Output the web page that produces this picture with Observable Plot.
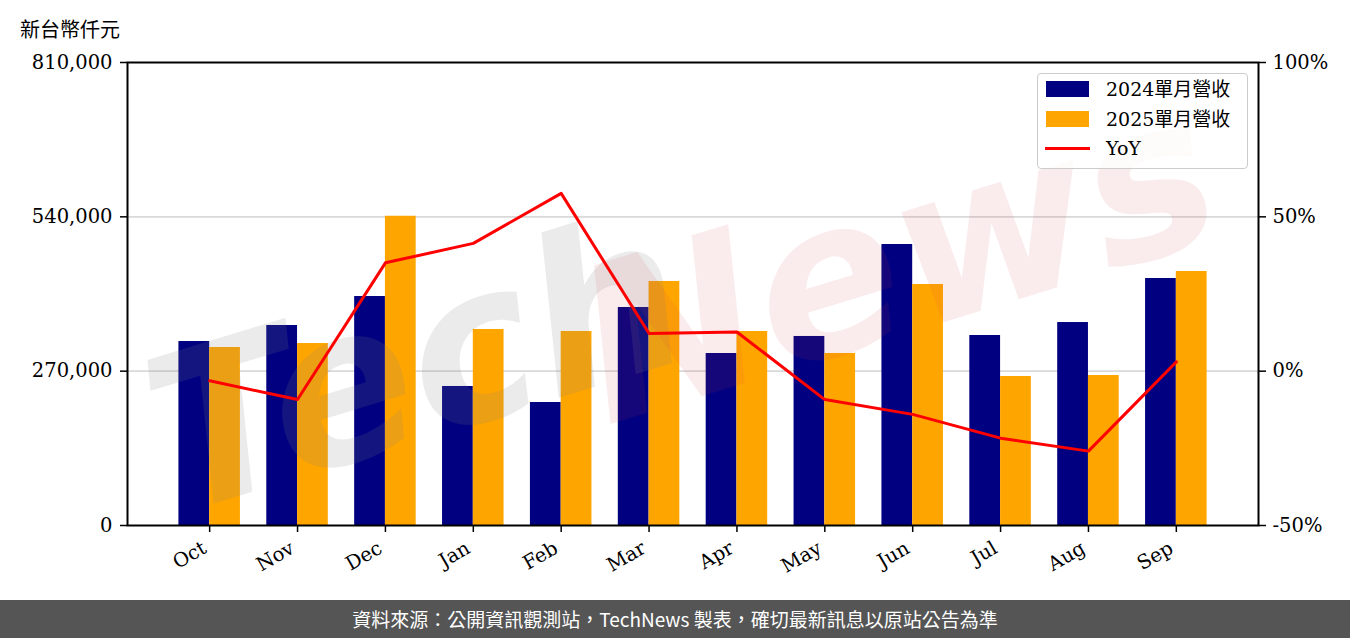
<!DOCTYPE html>
<html>
<head>
<meta charset="utf-8">
<script src="https://cdn.jsdelivr.net/npm/d3@7"></script>
<script src="https://cdn.jsdelivr.net/npm/@observablehq/plot@0.6"></script>
<style>
  html, body { margin: 0; padding: 0; background: #fff; }
  #wrap { position: relative; width: 1350px; height: 638px; overflow: hidden; background: #fff; }
  #unit { position: absolute; left: 20px; top: 14px; font: 20px "Noto Sans CJK TC", sans-serif; color: #000; }
  #legend { position: absolute; left: 1037px; top: 73px; width: 209px; height: 94px; border: 1px solid #cccccc; border-radius: 4px; background: rgba(255,255,255,0.8); }
  #legend .sw { position: absolute; left: 8px; width: 43px; height: 16px; }
  #legend .ln { position: absolute; left: 7px; width: 45px; height: 3px; background: #ff0000; }
  #legend .lab { position: absolute; left: 68px; font: 19px "DejaVu Serif", "Noto Sans CJK TC", serif; color: #000; line-height: 24px; }
  #footer { position: absolute; left: 0; top: 600px; width: 1350px; height: 38px; background: #555555; color: #fff; font: 19px "Noto Sans CJK TC", sans-serif; text-align: center; line-height: 38px; }
  #chart svg { display: block; }
</style>
</head>
<body>
<div id="wrap">
  <div id="chart"></div>
  <div id="unit">新台幣仟元</div>
  <div id="legend"></div>
  <div id="footer">資料來源：公開資訊觀測站，TechNews 製表，確切最新訊息以原站公告為準</div>
</div>
<script>
// ---- data ----
const months = ["Oct", "Nov", "Dec", "Jan", "Feb", "Mar", "Apr", "May", "Jun", "Jul", "Aug", "Sep"];
const rev2024 = [321900, 349900, 400600, 243200, 215200, 381400, 300900, 330700, 491600, 332400, 355100, 432100];
const rev2025 = [311400, 318400, 541000, 342900, 339400, 426900, 339400, 300900, 421600, 260700, 262400, 444400];
const yoy = [-3.1, -9.2, 35.1, 41.4, 57.6, 12.2, 12.7, -9.2, -14.0, -21.7, -25.9, 3.0];
const leftTicks = [0, 270000, 540000, 810000];
const rightTickLabels = ["-50%", "0%", "50%", "100%"];
const seriesNames = ["2024單月營收", "2025單月營收", "YoY"];
const colors = ["#000080", "#ffa500", "#ff0000"];

// ---- derived tables ----
const yMax = 810000, pMin = -50, pMax = 100;
const pctToY = p => (p - pMin) / (pMax - pMin) * yMax;
const barWidth = 0.35;
const bars24 = months.map((m, i) => ({i, x1: i - barWidth, x2: i, v: rev2024[i]}));
const bars25 = months.map((m, i) => ({i, x1: i, x2: i + barWidth, v: rev2025[i]}));
const yoyData = months.map((m, i) => ({i, y: pctToY(yoy[i])}));
const idx = months.map((m, i) => i);

const chart = Plot.plot({
  width: 1350,
  height: 600,
  marginLeft: 127,
  marginRight: 92,
  marginTop: 62,
  marginBottom: 75,
  x: {domain: [-0.935, months.length - 1 + 0.935]},
  y: {domain: [0, yMax]},
  style: {fontFamily: "'DejaVu Serif', serif", fontSize: "19.5px", color: "#000", background: "transparent"},
  marks: [
    Plot.ruleY([leftTicks[1], leftTicks[2]], {stroke: "#d9d9d9", strokeWidth: 1.6}),
    Plot.rectY(bars24, {x1: "x1", x2: "x2", y1: 0, y2: "v", fill: colors[0]}),
    Plot.rectY(bars25, {x1: "x1", x2: "x2", y1: 0, y2: "v", fill: colors[1]}),
    Plot.text(["Tech"], {frameAnchor: "middle", dx: -275, dy: 75, rotate: -17, fontSize: 215, fontStyle: "italic", fontWeight: "bold", fontFamily: "DejaVu Sans", fill: "#808080", fillOpacity: 0.16, text: d => d}),
    Plot.text(["News"], {frameAnchor: "middle", dx: 205, dy: -30, rotate: -17, fontSize: 215, fontStyle: "italic", fontWeight: "bold", fontFamily: "DejaVu Sans", fill: "#d04040", fillOpacity: 0.1, text: d => d}),
    Plot.line(yoyData, {x: "i", y: "y", stroke: colors[2], strokeWidth: 3}),
    Plot.frame({stroke: "#000", strokeWidth: 2}),
    Plot.axisY({ticks: leftTicks, tickFormat: d3.format(","), tickSize: 7, tickPadding: 8, label: null, strokeWidth: 1.5}),
    Plot.axisY({anchor: "right", ticks: leftTicks, tickFormat: (d) => rightTickLabels[leftTicks.indexOf(d)], tickSize: 7, tickPadding: 7, label: null, strokeWidth: 1.5}),
    Plot.axisX({ticks: idx, tickSize: 7, label: null, strokeWidth: 1.5, text: null}),
    Plot.axisX({ticks: idx, tickFormat: i => months[i], tickRotate: -30, tickSize: 0, tickPadding: 19, dx: -5, dy: 2, label: null})
  ]
});
document.getElementById("chart").appendChild(chart);

// ---- legend ----
const legend = document.getElementById("legend");
const rowCenters = [15, 44.5, 74];
seriesNames.forEach((name, k) => {
  const mark = document.createElement("div");
  if (k < 2) {
    mark.className = "sw";
    mark.style.top = (rowCenters[k] - 8) + "px";
  } else {
    mark.className = "ln";
    mark.style.top = (rowCenters[k] - 1.5) + "px";
  }
  mark.style.background = colors[k];
  legend.appendChild(mark);
  const lab = document.createElement("div");
  lab.className = "lab";
  lab.style.top = (rowCenters[k] - 12) + "px";
  lab.textContent = name;
  legend.appendChild(lab);
});
</script>
</body>
</html>
